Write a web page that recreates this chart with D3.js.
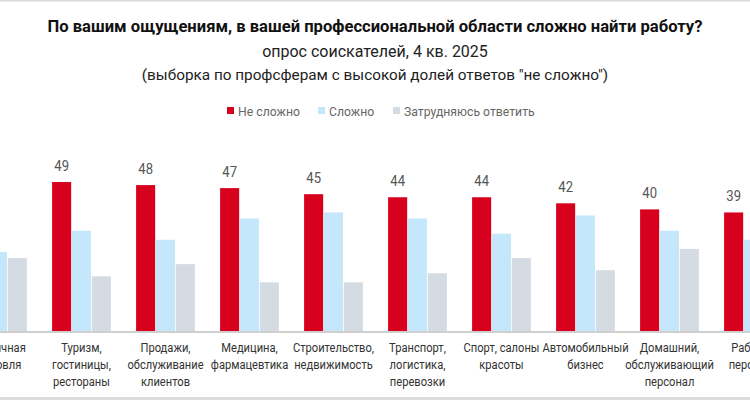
<!DOCTYPE html>
<html lang="ru">
<head>
    <meta charset="UTF-8">
    <title>Сложно найти работу</title>
    <script src="https://cdnjs.cloudflare.com/ajax/libs/d3/7.8.5/d3.min.js"></script>
    <style>
        body { margin: 0; background: #fff; }
        svg { display: block; font-family: Roboto, "Noto Sans", sans-serif; }
    </style>
</head>
<body>
<svg id="chart"></svg>
<script>
// categories (line breaks marked with |)
const categories = [
    "Розничная|торговля",
    "Туризм,|гостиницы,|рестораны",
    "Продажи,|обслуживание|клиентов",
    "Медицина,|фармацевтика",
    "Строительство,|недвижимость",
    "Транспорт,|логистика,|перевозки",
    "Спорт, салоны|красоты",
    "Автомобильный|бизнес",
    "Домашний,|обслуживающий|персонал",
    "Рабочий|персонал"
];
const seriesNames = ["Не сложно", "Сложно", "Затрудняюсь ответить"];
const notHard = [50, 49, 48, 47, 45, 44, 44, 42, 40, 39];
const hard = [26, 33, 30, 37, 39, 37, 32, 38, 33, 30];
const unsure = [24, 18, 22, 16, 16, 19, 24, 20, 27, 31];
const colors = ["#d7001d", "#c4e7fb", "#d5dbe3"];

const width = 750, height = 400;
// the source font is narrower than Roboto, squeeze text horizontally
const NARROW = 0.82;

const svg = d3.select("#chart")
    .attr("width", width)
    .attr("height", height);

// frame lines top / bottom
svg.append("line").attr("x1", 0).attr("x2", width).attr("y1", 0.5).attr("y2", 0.5)
    .attr("stroke", "#dcdcdc").attr("stroke-width", 2);
svg.append("line").attr("x1", 0).attr("x2", width).attr("y1", 398.5).attr("y2", 398.5)
    .attr("stroke", "#dcdcdc").attr("stroke-width", 3);

// titles
svg.append("text")
    .attr("x", width / 2).attr("y", 32)
    .attr("text-anchor", "middle")
    .style("font-size", "16.6px").style("font-weight", "bold").style("fill", "#111")
    .text("По вашим ощущениям, в вашей профессиональной области сложно найти работу?");
svg.append("text")
    .attr("x", width / 2).attr("y", 57)
    .attr("text-anchor", "middle")
    .style("font-size", "16px").style("fill", "#222")
    .text("опрос соискателей, 4 кв. 2025");
svg.append("text")
    .attr("x", width / 2).attr("y", 80)
    .attr("text-anchor", "middle")
    .style("font-size", "15.3px").style("fill", "#222")
    .text("(выборка по профсферам с высокой долей ответов \"не сложно\")");

// legend
const legendX = [227, 318, 393];
const legend = svg.append("g").attr("class", "legend");
seriesNames.forEach((name, i) => {
    const item = legend.append("g")
        .attr("transform", "translate(" + legendX[i] + ",0)");
    item.append("rect")
        .attr("x", 0).attr("y", 107)
        .attr("width", 7).attr("height", 7)
        .attr("fill", colors[i]);
    item.append("text")
        .attr("transform", "translate(11,115.5) scale(0.92,1)")
        .style("font-size", "13.3px").style("fill", "#666")
        .text(name);
});

// scales - the plot is wider than the window, first and last groups get cut
const x = d3.scaleBand()
    .domain(categories)
    .range([-44.5, 795.5])
    .paddingInner(0.3)
    .paddingOuter(0.15);

const xInner = d3.scaleBand()
    .domain(seriesNames)
    .range([0, x.bandwidth()])
    .paddingInner(0.04);

const y = d3.scaleLinear()
    .domain([0, 50])
    .range([331, 179]);

const series = [notHard, hard, unsure];

const groups = svg.append("g")
    .selectAll("g")
    .data(categories)
    .join("g")
    .attr("transform", d => "translate(" + x(d) + ",0)");

groups.selectAll("rect")
    .data((d, i) => series.map((s, k) => ({name: seriesNames[k], value: s[i], k: k})))
    .join("rect")
    .attr("x", d => xInner(d.name))
    .attr("y", d => y(d.value))
    .attr("width", xInner.bandwidth())
    .attr("height", d => y(0) - y(d.value))
    .attr("fill", d => colors[d.k]);

// value labels for the first series only
groups.append("text")
    .attr("transform", (d, i) => "translate(" + (xInner(seriesNames[0]) + xInner.bandwidth() / 2)
        + "," + (y(notHard[i]) - 11) + ") scale(0.9,1)")
    .attr("text-anchor", "middle")
    .style("font-size", "14.5px").style("fill", "#555")
    .text((d, i) => notHard[i]);

// x axis
const xAxis = svg.append("g")
    .attr("transform", "translate(0," + y(0) + ")")
    .call(d3.axisBottom(x).tickSize(0).tickSizeOuter(0).tickFormat(""));

xAxis.select(".domain")
    .attr("stroke", "#cfcfcf")
    .attr("stroke-width", 2)
    .attr("d", "M-50,1H800");

xAxis.selectAll(".tick text")
    .each(function(d) {
        const t = d3.select(this);
        t.text(null)
            .attr("y", 0)
            .attr("dy", null)
            .attr("transform", "scale(" + NARROW + ",1)")
            .style("font-size", "13.6px")
            .style("font-family", "Roboto, sans-serif")
            .style("fill", "#333");
        d.split("|").forEach((line, j) => {
            t.append("tspan")
                .attr("x", 0)
                .attr("y", 21 + j * 17)
                .text(line);
        });
    });
</script>
</body>
</html>
